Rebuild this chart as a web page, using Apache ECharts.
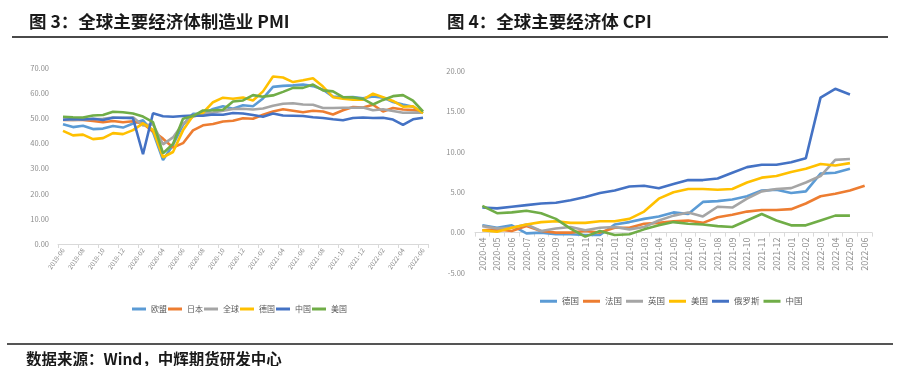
<!DOCTYPE html>
<html><head><meta charset="utf-8">
<script src="https://cdn.jsdelivr.net/npm/echarts@6/dist/echarts.min.js"></script>
<style>html,body{margin:0;padding:0;background:#fff}#c{width:901px;height:366px}</style>
</head><body><div id="c"></div>
<script>
const pmiMonths = ['2019-06','2019-07','2019-08','2019-09','2019-10','2019-11','2019-12',
'2020-01','2020-02','2020-03','2020-04','2020-05','2020-06','2020-07','2020-08','2020-09','2020-10','2020-11','2020-12',
'2021-01','2021-02','2021-03','2021-04','2021-05','2021-06','2021-07','2021-08','2021-09','2021-10','2021-11','2021-12',
'2022-01','2022-02','2022-03','2022-04','2022-05','2022-06'];
const pmiEU = [47.6,46.5,47.0,45.7,45.9,46.9,46.3, 47.9,49.2,44.5,33.4,39.4,47.4,51.8,51.7,53.7,54.8,53.8,55.2, 54.8,57.9,62.5,62.9,63.1,63.4,62.8,61.4,58.6,58.3,58.4,58.0, 58.7,58.2,56.5,55.5,54.6,52.1];
const pmiJapan = [49.3,49.4,49.3,48.9,48.4,48.9,48.4, 48.8,47.8,44.8,41.9,38.4,40.1,45.2,47.2,47.7,48.7,49.0,50.0, 49.8,51.4,52.7,53.6,53.0,52.4,53.0,52.7,51.5,53.2,54.5,54.3, 55.4,52.7,54.1,53.5,53.3,52.7];
const pmiGlobal = [49.4,49.3,49.5,49.7,49.8,50.3,50.1, 50.4,47.1,47.6,39.6,42.4,47.9,50.6,51.8,52.3,53.0,53.7,53.8, 53.5,53.9,55.0,55.8,56.0,55.5,55.4,54.1,54.1,54.2,54.2,54.3, 53.2,53.6,52.9,52.2,52.3,52.2];
const pmiGermany = [45.0,43.2,43.5,41.7,42.1,44.1,43.7, 45.3,48.0,45.4,34.5,36.6,45.2,51.0,52.2,56.4,58.2,57.8,58.3, 57.1,60.7,66.6,66.2,64.4,65.1,65.9,62.6,58.4,57.8,57.4,57.4, 59.8,58.4,56.9,54.6,54.8,52.0];
const pmiChina = [49.4,49.7,49.5,49.8,49.3,50.2,50.2, 50.0,35.7,52.0,50.8,50.6,50.9,51.1,51.0,51.5,51.4,52.1,51.9, 51.3,50.6,51.9,51.1,51.0,50.9,50.4,50.1,49.6,49.2,50.1,50.3, 50.1,50.2,49.5,47.4,49.6,50.2];
const pmiUS = [50.6,50.4,50.3,51.1,51.3,52.6,52.4, 51.9,50.7,48.5,36.1,39.8,49.8,50.9,53.1,53.2,53.4,56.7,57.1, 59.2,58.6,59.1,60.5,62.1,62.1,63.4,61.1,60.7,58.4,58.3,57.7, 55.5,57.3,58.8,59.2,57.0,52.7];

const cpiMonths = ['2020-04','2020-05','2020-06','2020-07','2020-08','2020-09','2020-10','2020-11','2020-12',
'2021-01','2021-02','2021-03','2021-04','2021-05','2021-06','2021-07','2021-08','2021-09','2021-10','2021-11','2021-12',
'2022-01','2022-02','2022-03','2022-04','2022-05','2022-06'];
const cpiGermany = [0.9,0.6,0.9,-0.1,0.0,-0.2,-0.2,-0.3,-0.3, 1.0,1.3,1.7,2.0,2.5,2.3,3.8,3.9,4.1,4.5,5.2,5.3, 4.9,5.1,7.3,7.4,7.9,null];
const cpiFrance = [0.3,0.4,0.2,0.8,0.2,0.0,0.0,0.2,0.0, 0.6,0.6,1.1,1.2,1.4,1.5,1.2,1.9,2.2,2.6,2.8,2.8, 2.9,3.6,4.5,4.8,5.2,5.8];
const cpiUK = [0.8,0.5,0.6,1.0,0.2,0.5,0.7,0.3,0.6, 0.7,0.4,0.7,1.5,2.1,2.5,2.0,3.2,3.1,4.2,5.1,5.4, 5.5,6.2,7.0,9.0,9.1,null];
const cpiUS = [0.3,0.1,0.6,1.0,1.3,1.4,1.2,1.2,1.4, 1.4,1.7,2.6,4.2,5.0,5.4,5.4,5.3,5.4,6.2,6.8,7.0, 7.5,7.9,8.5,8.3,8.6,null];
const cpiRussia = [3.1,3.0,3.2,3.4,3.6,3.7,4.0,4.4,4.9, 5.2,5.7,5.8,5.5,6.0,6.5,6.5,6.7,7.4,8.1,8.4,8.4, 8.7,9.2,16.7,17.8,17.1,null];
const cpiChina = [3.3,2.4,2.5,2.7,2.4,1.7,0.5,-0.5,0.2, -0.3,-0.2,0.4,0.9,1.3,1.1,1.0,0.8,0.7,1.5,2.3,1.5, 0.9,0.9,1.5,2.1,2.1,null];

const pmiNames = ['欧盟','日本','全球','德国','中国','美国'];
const cpiNames = ['德国','法国','英国','美国','俄罗斯','中国'];
const SUF = '\u200b';

const C = {lb:'#5B9BD5', or:'#ED7D31', gr:'#A5A5A5', ye:'#FFC000', db:'#4472C4', gn:'#70AD47'};
const lblColor = '#8c8c8c';
const font = '"Noto Sans CJK SC", "Noto Sans", sans-serif';

function ln(name, data, color, idx){
  return {name, type:'line', data, xAxisIndex:idx, yAxisIndex:idx, symbol:'none', smooth:false,
    lineStyle:{color, width:2.6}, itemStyle:{color}, connectNulls:false, animation:false};
}

const pmiSeries = [
  ln(pmiNames[0], pmiEU, C.lb, 0), ln(pmiNames[1], pmiJapan, C.or, 0), ln(pmiNames[2], pmiGlobal, C.gr, 0),
  ln(pmiNames[3], pmiGermany, C.ye, 0), ln(pmiNames[4], pmiChina, C.db, 0), ln(pmiNames[5], pmiUS, C.gn, 0)];
const cpiSeries = [
  ln(cpiNames[0]+SUF, cpiGermany, C.lb, 1), ln(cpiNames[1]+SUF, cpiFrance, C.or, 1), ln(cpiNames[2]+SUF, cpiUK, C.gr, 1),
  ln(cpiNames[3]+SUF, cpiUS, C.ye, 1), ln(cpiNames[4]+SUF, cpiRussia, C.db, 1), ln(cpiNames[5]+SUF, cpiChina, C.gn, 1)];

// right grid geometry: top 71, bottom edge 273 -> zero line offset from bottom
const cpiMin = -5, cpiMax = 20, cpiTop = 71, cpiBottomY = 273;
const zeroOffset = (cpiBottomY - cpiTop) * (0 - cpiMin) / (cpiMax - cpiMin);

const chart = echarts.init(document.getElementById('c'), null, {renderer:'canvas'});
chart.setOption({
  animation:false,
  backgroundColor:'#fff',
  title:[
    {text:'图 3：全球主要经济体制造业 PMI', left:24, top:8, textStyle:{fontSize:17.5, fontWeight:'bold', fontFamily:font, color:'#1a1a1a'}},
    {text:'图 4：全球主要经济体 CPI', left:442, top:8, textStyle:{fontSize:17.5, fontWeight:'bold', fontFamily:font, color:'#1a1a1a'}},
    {text:'数据来源：Wind，中辉期货研发中心', left:21, top:346, textStyle:{fontSize:15.5, fontWeight:'bold', fontFamily:font, color:'#1a1a1a'}}
  ],
  graphic:[
    {type:'line', shape:{x1:12,y1:37,x2:888,y2:37}, style:{stroke:'#4a4a4a', lineWidth:2}},
    {type:'line', shape:{x1:7,y1:344,x2:893,y2:344}, style:{stroke:'#555', lineWidth:2}}
  ],
  legend:[
    {data:pmiNames, left:127, top:300, icon:'rect', itemWidth:14, itemHeight:3, itemGap:1,
     textStyle:{fontSize:8, color:'#595959', fontFamily:font}, selectedMode:false},
    {data:cpiNames.map(n=>n+SUF), left:535, top:292, icon:'rect', itemWidth:17, itemHeight:3, itemGap:4,
     formatter:n=>n.replace(SUF,''), textStyle:{fontSize:8.5, color:'#595959', fontFamily:font}, selectedMode:false}
  ],
  grid:[
    {left:58, right:473, top:68, bottom:122},
    {left:475, right:29, top:cpiTop, bottom:366-cpiBottomY}
  ],
  xAxis:[
    {type:'category', gridIndex:0, data:pmiMonths, boundaryGap:true,
     axisLine:{lineStyle:{color:'#d9d9d9'}}, axisTick:{show:true, interval:1, length:4, lineStyle:{color:'#d9d9d9'}},
     axisLabel:{interval:1, rotate:55, fontSize:6.5, color:lblColor, margin:5, fontFamily:font}},
    {type:'category', gridIndex:1, data:cpiMonths, boundaryGap:true, offset:-zeroOffset,
     axisLine:{onZero:false, lineStyle:{color:'#d9d9d9'}}, axisTick:{show:true, interval:0, length:4, lineStyle:{color:'#d9d9d9'}},
     axisLabel:{interval:0, rotate:90, fontSize:9, color:lblColor, margin:5, fontFamily:font}}
  ],
  yAxis:[
    {type:'value', gridIndex:0, min:0, max:70, interval:10, axisLine:{show:false}, axisTick:{show:false},
     splitLine:{show:false}, axisLabel:{formatter:v=>v.toFixed(2), fontSize:7.5, color:lblColor, margin:9, fontFamily:font}},
    {type:'value', gridIndex:1, min:cpiMin, max:cpiMax, interval:5, axisLine:{show:false}, axisTick:{show:false},
     splitLine:{show:false}, axisLabel:{formatter:v=>v.toFixed(2), fontSize:7.5, color:lblColor, margin:10, fontFamily:font}}
  ],
  series: pmiSeries.concat(cpiSeries)
});
</script></body></html>
